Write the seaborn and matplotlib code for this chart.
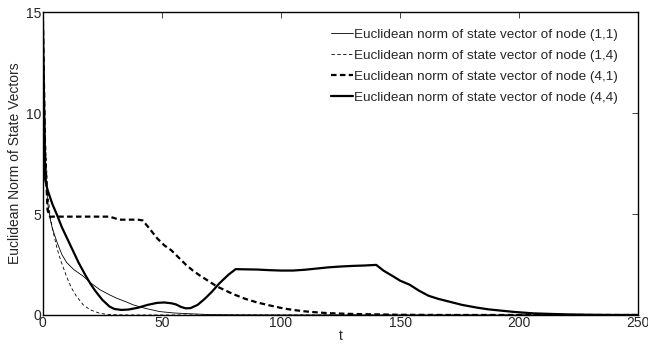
import pandas as pd
import matplotlib
matplotlib.use('Agg')
import matplotlib.pyplot as plt
import seaborn as sns

# values
t11 = [0, 1, 2, 3, 4, 6, 8, 10, 13, 17, 20, 24, 28, 31, 35, 38, 43, 49, 55, 60, 70, 80, 100, 250]
n11 = [15, 8, 5.6, 4.8, 4.3, 3.6, 3.0, 2.6, 2.25, 1.92, 1.6, 1.25, 1.0, 0.83, 0.65, 0.5, 0.33, 0.17, 0.1, 0.07, 0.02, 0.01, 0, 0]

t14 = [0, 1, 2, 3, 4, 5, 6, 7, 8, 10, 12, 14, 17, 20, 24, 28, 35, 250]
n14 = [15, 9, 6.2, 5.0, 4.3, 3.8, 3.3, 2.9, 2.55, 1.9, 1.35, 0.95, 0.5, 0.25, 0.08, 0.02, 0, 0]

t41 = [0, 1, 2, 3, 10, 20, 28, 30, 32, 40, 42, 45, 48, 51, 54, 57, 60, 63, 66, 70, 73, 76, 80,
       85, 90, 95, 100, 105, 110, 115, 120, 130, 140, 150, 170, 200, 250]
n41 = [15, 8, 5.2, 4.87, 4.87, 4.87, 4.87, 4.8, 4.72, 4.72, 4.68, 4.25, 3.8, 3.45, 3.2, 2.85, 2.5,
       2.2, 1.95, 1.65, 1.42, 1.25, 1.03, 0.8, 0.62, 0.48, 0.35, 0.25, 0.18, 0.13, 0.09, 0.05, 0.03,
       0.01, 0, 0, 0]

t44 = [0, 1, 2, 4, 6, 8, 10, 12, 15, 18, 20, 22, 25, 28, 30, 33, 36, 40, 44, 48, 51, 54, 56, 58,
       60, 62, 65, 68, 71, 74, 78, 81, 85, 90, 95, 100, 105, 110, 115, 120, 125, 130, 135, 140,
       143, 147, 150, 154, 158, 162, 166, 171, 176, 182, 187, 192, 198, 206, 214, 220, 230, 240, 250]
n44 = [15, 6.7, 6.2, 5.5, 4.95, 4.35, 3.85, 3.35, 2.6, 1.95, 1.55, 1.2, 0.75, 0.42, 0.3, 0.25, 0.27,
       0.36, 0.5, 0.6, 0.62, 0.58, 0.52, 0.4, 0.33, 0.34, 0.5, 0.8, 1.15, 1.55, 2.0, 2.27, 2.26,
       2.25, 2.22, 2.2, 2.2, 2.24, 2.3, 2.36, 2.4, 2.43, 2.45, 2.48, 2.2, 1.92, 1.7, 1.5, 1.2, 0.95,
       0.8, 0.65, 0.5, 0.37, 0.28, 0.22, 0.15, 0.08, 0.05, 0.03, 0.01, 0.0, 0.0]

labels = ['Euclidean norm of state vector of node (1,1)',
          'Euclidean norm of state vector of node (1,4)',
          'Euclidean norm of state vector of node (4,1)',
          'Euclidean norm of state vector of node (4,4)']

sns.set_style('white')
plt.rcParams['font.family'] = ['Liberation Sans', 'DejaVu Sans']
plt.rcParams['font.size'] = 10

fig = plt.figure(figsize=(6.48, 3.45), dpi=100)
ax = fig.add_axes([0.066, 0.087, 0.919, 0.878])

sns.lineplot(x=t11, y=n11, ax=ax, color='black', lw=0.6, label=labels[0], sort=False)
sns.lineplot(x=t14, y=n14, ax=ax, color='black', lw=0.6, label=labels[1], sort=False)
sns.lineplot(x=t41, y=n41, ax=ax, color='black', lw=1.6, label=labels[2], sort=False)
sns.lineplot(x=t44, y=n44, ax=ax, color='black', lw=1.6, label=labels[3], sort=False)
ax.lines[1].set_linestyle((0, (4, 3)))
ax.lines[2].set_linestyle((0, (2.5, 1.5)))

ax.set_xlim(0, 250)
ax.set_ylim(0, 15)
ax.set_xticks([0, 50, 100, 150, 200, 250])
ax.set_yticks([0, 5, 10, 15])
ax.tick_params(direction='in', top=True, right=True, length=4, width=0.6, labelsize=10, pad=1)
for s in ax.spines.values():
    s.set_color('black')
    s.set_linewidth(1.0)
ax.set_xlabel('t', fontsize=10, labelpad=-1)
ax.set_ylabel('Euclidean Norm of State Vectors', fontsize=10, labelpad=3)

leg = ax.legend(loc='upper right', bbox_to_anchor=(0.965, 0.946), frameon=False, fontsize=9.7,
                handlelength=1.6, handletextpad=0.05, labelspacing=0.63,
                borderaxespad=0, borderpad=0)

fig.savefig('out.png', dpi=100)
